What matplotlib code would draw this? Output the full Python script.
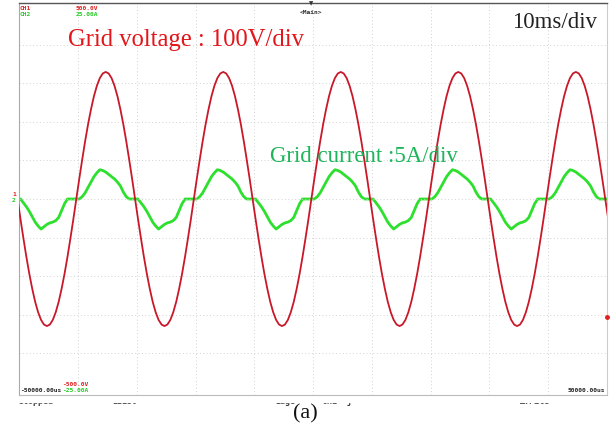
import matplotlib.pyplot as plt
import numpy as np
from matplotlib.patches import Rectangle

# one mains cycle, sampled every 0.5 ms from the rising zero crossing of the voltage
step_ms = 0.5
voltage_cycle = [0, 52, 102, 150, 194, 233, 267, 294, 314, 326,
                 330, 326, 314, 294, 267, 233, 194, 150, 102, 52,
                 0, -52, -102, -150, -194, -233, -267, -294, -314, -326,
                 -330, -326, -314, -294, -267, -233, -194, -150, -102, -52]  # V
current_cycle = [0, 0, 0.3, 0.8, 1.5, 2.2, 2.9, 3.4, 3.8, 3.7,
                 3.5, 3.2, 2.9, 2.6, 2.2, 1.7, 0.9, 0.3, 0, 0,
                 0, 0, -0.5, -1.0, -1.6, -2.3, -3.0, -3.5, -3.9, -3.6,
                 -3.3, -3.1, -3.0, -2.8, -2.4, -1.5, -0.6, 0, 0, 0]  # A
first_zero_ms = -60.3   # rising zero crossing one cycle before the screen
n_cycles = 6

v_div = 100   # V/div
i_div = 5     # A/div
t_div = 10    # ms/div

# build the trace by repeating the cycle
t = first_zero_ms + step_ms * np.arange(len(voltage_cycle) * n_cycles + 1)
v = np.append(np.tile(voltage_cycle, n_cycles), voltage_cycle[0])
i = np.append(np.tile(current_cycle, n_cycles), current_cycle[0])

W, H = 610, 434
fig = plt.figure(figsize=(W / 100, H / 100), dpi=100)

def px(x, y):
    return x / W, 1 - y / H

ax_l, ax_r, ax_t, ax_b = 19.3, 607, 3, 395
ax = fig.add_axes([ax_l / W, 1 - ax_b / H, (ax_r - ax_l) / W, (ax_b - ax_t) / H])
ndiv_y = 5.09
ax.set_xlim(-50, 50)
ax.set_ylim(-ndiv_y * v_div, ndiv_y * v_div)
ax2 = ax.twinx()
ax2.set_ylim(-ndiv_y * i_div, ndiv_y * i_div)

for a in (ax, ax2):
    a.set_xticks([])
    a.set_yticks([])
    for s in a.spines.values():
        s.set_visible(False)

# scope graticule
for k in range(-4, 5):
    ax.axvline(k * t_div, color='#d2d2d2', lw=0.7, ls=(0, (1, 2.5)), zorder=0)
for k in range(-4, 5):
    ax.axhline(k * v_div, color='#d2d2d2', lw=0.7, ls=(0, (1, 2.5)), zorder=0)
ax.spines['top'].set_visible(True)
ax.spines['top'].set_color('#555555')
ax.spines['top'].set_linewidth(1.0)
ax.spines['left'].set_visible(True)
ax.spines['left'].set_color('#aaaaaa')
ax.spines['left'].set_linewidth(0.8)
ax.spines['bottom'].set_visible(True)
ax.spines['bottom'].set_color('#bbbbbb')
ax.spines['bottom'].set_linewidth(0.8)
ax.spines['right'].set_visible(True)
ax.spines['right'].set_color('#cccccc')
ax.spines['right'].set_linewidth(0.8)

ax.plot(t, v, color='#c8182a', lw=1.3, zorder=3)
ax2.plot(t, i, color='#2ee02e', lw=2.0, zorder=2)
ax.set_zorder(ax2.get_zorder() + 1)
ax.patch.set_visible(False)

serif = 'Liberation Serif'
fig.text(*px(68, 40), 'Grid voltage : 100V/div', color='#e3161b', family=serif,
         fontsize=17.7, va='center', ha='left')
fig.text(*px(270, 157), 'Grid current :5A/div', color='#1db45a', family=serif,
         fontsize=16.5, va='center', ha='left')
fig.text(*px(512, 22), '10ms/div', color='#222222', family=serif,
         fontsize=16.5, va='center', ha='left')

mono = dict(family='DejaVu Sans Mono', fontsize=4.5, weight='bold', va='center')
fig.text(*px(20, 9), 'CH1', color='#e02020', ha='left', **mono)
fig.text(*px(20, 15), 'CH2', color='#22cc22', ha='left', **mono)
fig.text(*px(76, 9), '500.0V', color='#e02020', ha='left', **mono)
fig.text(*px(76, 15), '25.00A', color='#22cc22', ha='left', **mono)
fig.text(*px(311, 12), '<Main>', color='#333333', ha='center', **mono)
fig.text(*px(311, 4), '\u25bc', color='#333333', ha='center', family='DejaVu Sans',
         fontsize=4, va='center')
fig.text(*px(62, 384), '-500.0V', color='#e02020', ha='left', **mono)
fig.text(*px(62, 391), '-25.00A', color='#22cc22', ha='left', **mono)
fig.text(*px(20, 391), '-50000.00us', color='#222222', ha='left', **mono)
fig.text(*px(605, 391), '50000.00us', color='#222222', ha='right', **mono)
fig.text(*px(14, 195), '1', color='#e02020', ha='center', **mono)
fig.text(*px(14, 201), '2', color='#22cc22', ha='center', **mono)
fig.add_artist(plt.Line2D([607 / W], [1 - 317 / H], marker='o', ms=2.5,
                          color='#e02020', transform=fig.transFigure))

# status line, bottom half cut off as in the screenshot
status = [(18, 'Stopped'), (112, '12150'), (275, 'Edge'), (322, 'CH1  \u0283'), (520, '\u25a0:File')]
for x, s in status:
    fig.text(*px(x, 397), s, color='#333333', family='DejaVu Sans Mono', fontsize=6,
             weight='bold', ha='left', va='top', zorder=1)
fig.add_artist(Rectangle(px(0, 402), 1, 5 / H, transform=fig.transFigure,
                         color='white', zorder=5))

fig.text(*px(305, 414), '(a)', color='#111111', family=serif, fontsize=16,
         ha='center', va='center')

fig.savefig('out.png', dpi=100)
